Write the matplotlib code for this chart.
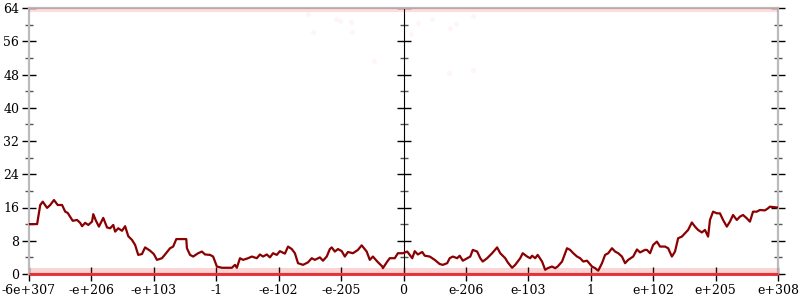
import matplotlib
matplotlib.use("Agg")
import matplotlib.pyplot as plt

# x positions are in tick units (0 = -6e+307 ... 6 = 0 ... 12 = e+308)
x_labels = ["-6e+307", "-e+206", "-e+103", "-1", "-e-102", "-e-205", "0",
            "e-206", "e-103", "1", "e+102", "e+205", "e+308"]
y_ticks = [0, 8, 16, 24, 32, 40, 48, 56, 64]

line_x = [0.0, 0.13, 0.18, 0.22, 0.29, 0.34, 0.40, 0.46, 0.53, 0.58, 0.62, 0.67, 0.70,
          0.77, 0.82, 0.85, 0.90, 0.95, 1.01, 1.03, 1.07, 1.12, 1.19, 1.25, 1.30, 1.35,
          1.38, 1.43, 1.49, 1.54, 1.59, 1.65, 1.70, 1.75, 1.81, 1.86, 1.94, 2.00, 2.05,
          2.13, 2.18, 2.26, 2.31, 2.36, 2.45, 2.52, 2.53, 2.58, 2.63, 2.71, 2.77, 2.82,
          2.90, 2.95, 3.01, 3.09, 3.17, 3.25, 3.30, 3.33, 3.38, 3.43, 3.51, 3.57, 3.65,
          3.70, 3.75, 3.81, 3.86, 3.91, 3.97, 4.02, 4.10, 4.15, 4.21, 4.26, 4.31, 4.39,
          4.47, 4.53, 4.58, 4.66, 4.71, 4.77, 4.82, 4.85, 4.90, 4.95, 5.01, 5.06, 5.11,
          5.19, 5.27, 5.33, 5.41, 5.46, 5.51, 5.58, 5.66, 5.67, 5.74, 5.78, 5.86, 5.91,
          5.99, 6.06, 6.14, 6.18, 6.23, 6.30, 6.34, 6.42, 6.50, 6.58, 6.63, 6.70, 6.74,
          6.79, 6.86, 6.90, 6.95, 7.02, 7.07, 7.11, 7.18, 7.23, 7.27, 7.34, 7.42, 7.50,
          7.55, 7.63, 7.67, 7.74, 7.79, 7.87, 7.91, 7.98, 8.03, 8.06, 8.11, 8.15, 8.22,
          8.27, 8.31, 8.38, 8.43, 8.47, 8.54, 8.59, 8.62, 8.67, 8.72, 8.78, 8.83, 8.88,
          8.94, 9.02, 9.07, 9.12, 9.18, 9.23, 9.28, 9.34, 9.39, 9.44, 9.50, 9.55, 9.60,
          9.68, 9.74, 9.79, 9.87, 9.90, 9.95, 10.00, 10.06, 10.11, 10.19, 10.24, 10.30,
          10.35, 10.40, 10.46, 10.51, 10.56, 10.62, 10.67, 10.72, 10.78, 10.83, 10.88,
          10.91, 10.96, 11.02, 11.07, 11.12, 11.18, 11.23, 11.28, 11.34, 11.39, 11.44,
          11.50, 11.55, 11.60, 11.66, 11.71, 11.79, 11.84, 11.87, 11.98, 12.0]
line_y = [12.0, 12.0, 16.6, 17.4, 15.9, 16.6, 17.8, 16.6, 16.6, 15.0, 14.7, 13.5, 12.8,
          13.0, 12.3, 11.5, 12.3, 11.8, 12.6, 14.4, 12.9, 11.4, 13.5, 11.2, 11.0, 11.8,
          10.2, 11.0, 10.4, 11.5, 9.1, 8.2, 7.0, 4.6, 4.8, 6.4, 5.6, 4.8, 3.4,
          3.8, 4.7, 6.2, 6.6, 8.4, 8.4, 8.4, 6.2, 4.6, 4.2, 5.0, 5.4, 4.7,
          4.6, 4.2, 1.8, 1.5, 1.5, 1.5, 2.2, 1.5, 3.8, 3.4, 3.8, 4.2, 3.8,
          4.7, 4.2, 4.7, 4.0, 5.0, 4.6, 5.5, 4.9, 6.6, 6.0, 5.0, 2.6, 2.2,
          2.8, 3.8, 3.4, 4.0, 3.2, 4.2, 6.0, 6.4, 5.4, 6.0, 5.5, 4.2, 5.3,
          5.0, 5.8, 6.9, 5.4, 3.4, 4.2, 3.0, 1.8, 1.4, 3.0, 3.8, 3.8, 5.0,
          5.0, 5.4, 3.8, 5.5, 4.7, 5.3, 4.4, 4.2, 3.4, 2.4, 2.2, 2.6, 3.8,
          4.2, 3.8, 4.4, 3.2, 3.8, 4.2, 5.8, 5.4, 3.8, 3.0, 3.8, 5.0, 6.4,
          5.0, 3.8, 2.8, 1.5, 2.2, 3.8, 5.0, 4.2, 3.8, 4.4, 3.8, 4.6, 3.0,
          1.0, 1.4, 1.8, 1.4, 1.8, 3.0, 5.0, 6.2, 5.8, 5.0, 4.2, 3.8, 3.0,
          3.2, 1.8, 1.4, 0.8, 2.6, 4.6, 5.0, 6.2, 5.4, 5.0, 4.2, 2.6, 3.4,
          4.2, 5.9, 5.2, 5.8, 5.8, 5.0, 7.0, 7.8, 6.6, 6.6, 6.2, 4.2,
          5.4, 8.6, 9.0, 9.8, 10.6, 12.4, 11.4, 10.6, 10.0, 10.6, 9.0,
          13.0, 15.0, 14.6, 14.6, 13.0, 11.4, 12.6, 14.2, 13.0, 13.8, 14.2,
          13.4, 12.6, 15.0, 15.0, 15.4, 15.3, 15.8, 16.2, 16.0, 16.0]

# dense bands of samples (value levels) and a few stray samples
band_levels = [0.0, 0.8, 63.6]
band_alpha = [0.9, 0.2, 0.15]
band_width = [2.2, 5.0, 3.0]
stray_x = [4.47, 4.55, 4.92, 4.98, 5.16, 5.18, 5.53, 6.12, 6.23, 6.46, 6.75, 6.84, 7.11, 6.73, 7.11]
stray_y = [62.5, 58.2, 61.3, 60.9, 60.6, 58.2, 51.2, 57.7, 60.4, 61.3, 59.1, 60.1, 62.0, 48.4, 49.1]

plt.rcParams['font.family'] = ['DejaVu Serif']
fig = plt.figure(figsize=(8, 3), dpi=100)
ax = fig.add_axes([29 / 800, 1 - 274 / 300, (778 - 29) / 800, (274 - 8) / 300])

spine_c = '#bbbbbb'
for s in ax.spines.values():
    s.set_color(spine_c)
    s.set_linewidth(1.6)

for lv, al, lw in zip(band_levels, band_alpha, band_width):
    ax.hlines(lv, 0, 12, colors='#e8282d', alpha=al, linewidth=lw, zorder=3, clip_on=False)
ax.scatter(stray_x, stray_y, s=14, color='#ff8080', alpha=0.08, linewidths=0, zorder=2)

ax.plot(line_x, line_y, color='#8b0000', linewidth=1.6, zorder=4)

ax.set_xlim(0, 12)
ax.set_ylim(0, 64)
ax.set_xticks(range(len(x_labels)))
ax.set_xticklabels(x_labels)
ax.set_yticks(y_ticks)
ax.set_yticks([v + 4 for v in y_ticks[:-1]], minor=True)
ax.tick_params(axis='both', which='major', direction='inout', length=10, width=1,
               color='black', labelsize=9, pad=2)
ax.tick_params(axis='y', which='minor', direction='inout', length=6, width=1, color='#555555')
ax.tick_params(axis='y', which='both', right=True)

sec = ax.secondary_yaxis(0.5)
sec.set_yticks(y_ticks)
sec.set_yticks([v + 4 for v in y_ticks[:-1]], minor=True)
sec.set_yticklabels([])
sec.spines['left'].set_color(spine_c)
sec.spines['left'].set_linewidth(1.6)
sec.tick_params(axis='y', which='major', direction='inout', length=10, width=1, color='black')
sec.tick_params(axis='y', which='minor', direction='inout', length=6, width=1, color='#555555')

fig.savefig('out.png', dpi=100)
